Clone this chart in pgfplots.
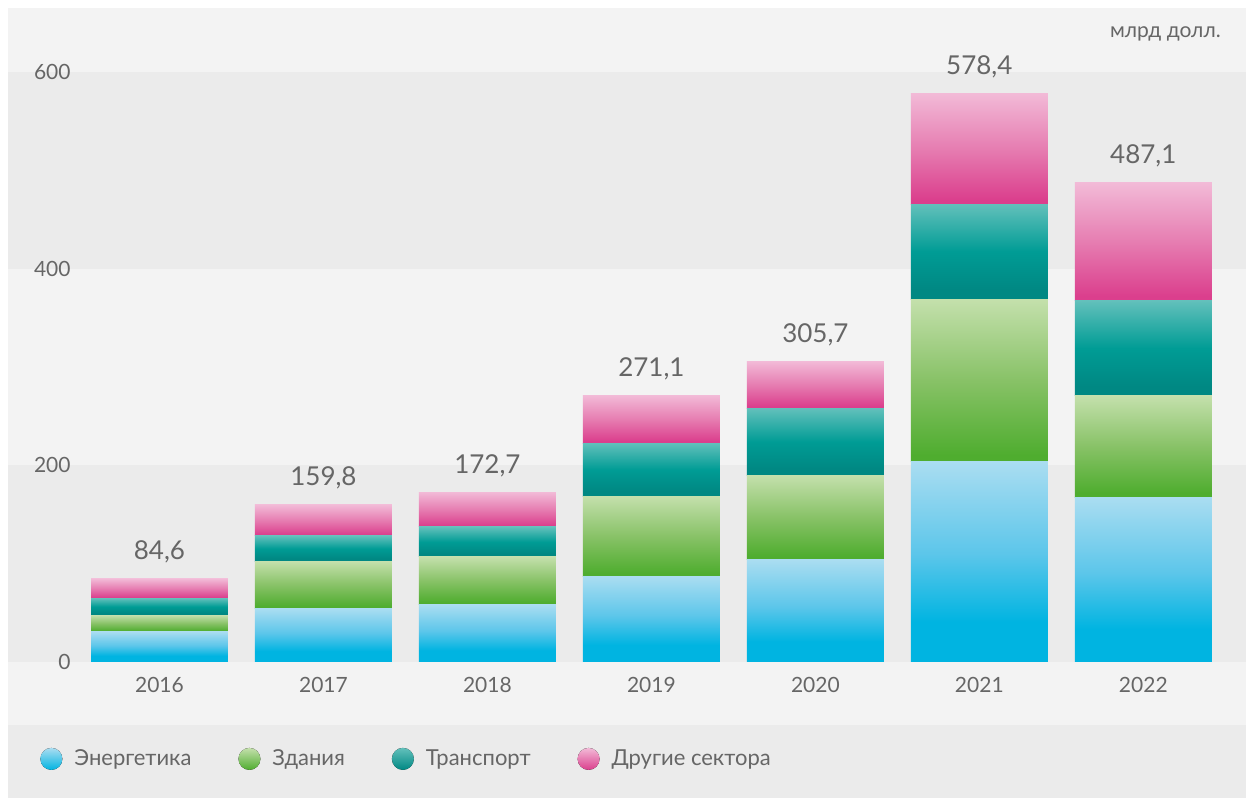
\documentclass[border=0pt]{standalone}
\usepackage{fontspec}
\setmainfont{Lato}
\usepackage{pgfplots}
\usepackage{pgfplotstable}
\pgfplotsset{compat=1.18}

\definecolor{bglight}{HTML}{F3F3F3}
\definecolor{bgdark}{HTML}{EBEBEB}
\definecolor{txt}{HTML}{666666}
\definecolor{blueT}{HTML}{AADDF1}
\definecolor{blueM}{HTML}{5CC6EA}
\definecolor{blueB}{HTML}{00B4E1}
\definecolor{greenT}{HTML}{C4E0AC}
\definecolor{greenM}{HTML}{88C267}
\definecolor{greenB}{HTML}{4FAD2F}
\definecolor{tealT}{HTML}{62C0BB}
\definecolor{tealM}{HTML}{009C95}
\definecolor{tealB}{HTML}{008883}
\definecolor{pinkT}{HTML}{F2BAD7}
\definecolor{pinkM}{HTML}{E67DB1}
\definecolor{pinkB}{HTML}{DB3F8D}

% bar box maps to 25bp..75bp of the shading
\pgfdeclareverticalshading{blueshade}{100bp}{color(0bp)=(blueB); color(35bp)=(blueB); color(52bp)=(blueM); color(75bp)=(blueT); color(100bp)=(blueT)}
\pgfdeclareverticalshading{greenshade}{100bp}{color(0bp)=(greenB); color(27bp)=(greenB); color(50bp)=(greenM); color(75bp)=(greenT); color(100bp)=(greenT)}
\pgfdeclareverticalshading{tealshade}{100bp}{color(0bp)=(tealB); color(30bp)=(tealB); color(50bp)=(tealM); color(75bp)=(tealT); color(100bp)=(tealT)}
\pgfdeclareverticalshading{pinkshade}{100bp}{color(0bp)=(pinkB); color(27bp)=(pinkB); color(50bp)=(pinkM); color(75bp)=(pinkT); color(100bp)=(pinkT)}

\pgfplotstableread{
x energy buildings transport other total
0 30.8 16.8 17.2 19.8 84.6
1 54.3 48.1 25.8 31.6 159.8
2 58.3 48.6 30.4 35.4 172.7
3 86.7 81.9 54.0 48.5 271.1
4 103.9 86.0 68.1 47.7 305.7
5 203.8 165.3 96.5 112.8 578.4
6 167.6 103.2 96.5 119.8 487.1
}\investdata

\pgfplotsset{
  barframe/.style={
    at={(0pt,0pt)}, anchor=south west,
    scale only axis,
    width=619pt, height=358.5pt,
    xmin=-0.9238, xmax=6.625,
    ymin=-64.07, ymax=665.1,
    bar width=0.835,
  },
}

\begin{document}
\begin{tikzpicture}
% white margin, panel and bands (0.49167pt per unit, y=0 at 31.5pt)
\fill[white] (-4pt,-36.5pt) rectangle (619pt,362.5pt);
\fill[bgdark] (0pt,-36.5pt) rectangle (619pt,0pt);
\fill[bglight] (0pt,0pt) rectangle (619pt,358.5pt);
\fill[bgdark] (0pt,31.5pt) rectangle (619pt,129.83pt);
\fill[bgdark] (0pt,228.17pt) rectangle (619pt,326.5pt);

% frame: ticks, legend, unit
\begin{axis}[
    barframe,
    xtick={0,...,6},
    xticklabels={2016,2017,2018,2019,2020,2021,2022},
    ytick={0,200,400,600},
    axis line style={draw=none},
    major tick length=0pt,
    /pgf/number format/assume math mode=true,
    tick label style={font=\fontsize{10.5}{12}\selectfont, text=txt},
    xticklabel style={anchor=center, yshift=20pt},
    yticklabel style={anchor=east, inner sep=0pt, xshift=31.5pt},
    legend columns=4,
    legend style={at={(axis description cs:0,0)}, anchor=west,
        xshift=13pt, yshift=-17pt, draw=none, fill=none,
        font=\fontsize{11}{13}\selectfont, text=txt,
        /tikz/every even column/.append style={column sep=21.5pt}},
    legend image code/.code={\fill (5.5pt,0pt) circle (5.5pt); \path (15pt,0pt);},
]
\addlegendimage{draw=none, top color=blueT, bottom color=blueB}
\addlegendentry{Энергетика}
\addlegendimage{draw=none, top color=greenT, bottom color=greenB}
\addlegendentry{Здания}
\addlegendimage{draw=none, top color=tealT, bottom color=tealB}
\addlegendentry{Транспорт}
\addlegendimage{draw=none, top color=pinkT, bottom color=pinkB}
\addlegendentry{Другие сектора}
\node[anchor=base east, text=txt, font=\fontsize{10.5}{12}\selectfont]
    at (rel axis cs:1,1) [xshift=-9pt, yshift=-15pt] {млрд долл.};
\end{axis}

% one stacked axis per year, so that each bar gets its own shading
\foreach \i [evaluate=\i as \j using int(\i+1)] in {0,...,6} {
\begin{axis}[barframe, ybar stacked, hide axis,
    skip coords between index={0}{\i},
    skip coords between index={\j}{7}]
  \addplot[draw=none, shade, shading=blueshade] table[x=x, y=energy] {\investdata};
  \addplot[draw=none, shade, shading=greenshade] table[x=x, y=buildings] {\investdata};
  \addplot[draw=none, shade, shading=tealshade] table[x=x, y=transport] {\investdata};
  \addplot[draw=none, shade, shading=pinkshade] table[x=x, y=other] {\investdata};
\end{axis}
}

% totals above the bars
\begin{axis}[barframe, ybar, hide axis]
\addplot[draw=none, fill=none,
    nodes near coords={\pgfmathprintnumber[fixed, fixed zerofill, precision=1, use comma, assume math mode=true]{\pgfplotspointmeta}},
    every node near coord/.append style={anchor=base, yshift=9.5pt, text=txt,
        font=\fontsize{13}{15}\selectfont}]
    table[x=x, y=total] {\investdata};
\end{axis}
\end{tikzpicture}
\end{document}
